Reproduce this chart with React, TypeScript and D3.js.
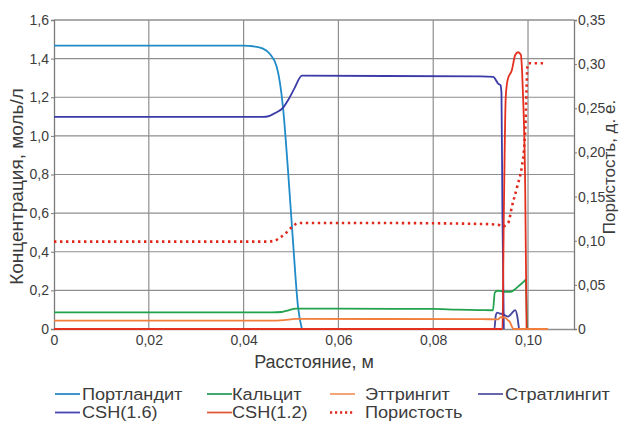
import { useEffect, useRef } from 'react';
import * as d3 from 'd3';

type Pt = [number, number];

// axis ticks
const xTicks = [0, 0.02, 0.04, 0.06, 0.08, 0.1];
const concTicks = [0, 0.2, 0.4, 0.6, 0.8, 1.0, 1.2, 1.4, 1.6];
const poreTicks = [0, 0.05, 0.1, 0.15, 0.2, 0.25, 0.3, 0.35];

// [distance m, concentration mol/l]
const portlandite: Pt[] = [
  [0, 1.467], [0.04, 1.467], [0.042, 1.464], [0.0441, 1.452], [0.0455, 1.425], [0.047, 1.357],
  [0.0483, 1.15], [0.0494, 0.81], [0.0504, 0.46], [0.0515, 0.11], [0.0523, 0],
];
const calcite: Pt[] = [
  [0, 0.086], [0.046, 0.086], [0.048, 0.088], [0.0495, 0.097], [0.051, 0.105], [0.06, 0.105],
  [0.08, 0.104], [0.085, 0.1], [0.09, 0.098], [0.0926, 0.097], [0.093, 0.19], [0.0937, 0.198],
  [0.095, 0.193], [0.0964, 0.193], [0.0972, 0.205], [0.0983, 0.228], [0.0993, 0.25],
  [0.0995, 0.255], [0.0998, 0],
];
const ettringite: Pt[] = [
  [0, 0.043], [0.046, 0.043], [0.0485, 0.046], [0.051, 0.052], [0.09, 0.051], [0.0937, 0.05],
  [0.0942, 0.062], [0.095, 0.06], [0.0958, 0.045], [0.0962, 0.035], [0.0966, 0.012],
  [0.0969, 0], [0.1042, 0],
];
const stratlingite: Pt[] = [
  [0, 0], [0.0929, 0], [0.0932, 0.07], [0.0935, 0.085], [0.094, 0.08], [0.0947, 0.078],
  [0.0952, 0.07], [0.0958, 0.064], [0.0965, 0.08], [0.0973, 0.098], [0.0977, 0.07], [0.0981, 0],
];
const csh16: Pt[] = [
  [0, 1.098], [0.044, 1.098], [0.0455, 1.104], [0.0468, 1.12], [0.0483, 1.145], [0.0495, 1.19],
  [0.0508, 1.25], [0.0523, 1.312], [0.07, 1.31], [0.09, 1.308], [0.0927, 1.306], [0.0932, 1.29],
  [0.0937, 1.27], [0.0942, 1.262], [0.0944, 1.22], [0.0946, 0.6], [0.0949, 0],
];
const csh12: Pt[] = [
  [0, 0], [0.0946, 0], [0.0949, 0.6], [0.0953, 1.2], [0.0957, 1.29], [0.0966, 1.341],
  [0.0973, 1.419], [0.0979, 1.433], [0.0985, 1.419], [0.0987, 1.358], [0.0989, 1.24],
  [0.0994, 0.74], [0.0997, 0],
];
// [distance m, porosity fraction] (right axis)
const porosity: Pt[] = [
  [0, 0.099], [0.045, 0.099], [0.0465, 0.1], [0.0478, 0.104], [0.049, 0.109], [0.0503, 0.116],
  [0.0515, 0.12], [0.07, 0.12], [0.09, 0.119], [0.0937, 0.118], [0.0945, 0.116], [0.0958, 0.12],
  [0.0966, 0.1385], [0.0977, 0.161], [0.0987, 0.184], [0.0992, 0.206], [0.0995, 0.237],
  [0.0997, 0.274], [0.0999, 0.299], [0.1001, 0.301], [0.1036, 0.301],
];

const series = [
  { name: 'Портландит', data: portlandite, color: '#1f8bc8', right: false },
  { name: 'Кальцит', data: calcite, color: '#22a24c', right: false },
  { name: 'Стратлингит', data: stratlingite, color: '#45459e', right: false },
  { name: 'CSH(1.6)', data: csh16, color: '#3b3ba8', right: false },
  { name: 'CSH(1.2)', data: csh12, color: '#e3301f', right: false },
  { name: 'Эттрингит', data: ettringite, color: '#f17e3c', right: false },
  { name: 'Пористость', data: porosity, color: '#e0291b', right: true, dotted: true },
];

const legendItems = [
  { name: 'Портландит', color: '#2a8bc8', col: 0, row: 0 },
  { name: 'Кальцит', color: '#2aa05e', col: 1, row: 0 },
  { name: 'Эттрингит', color: '#f39a68', col: 2, row: 0 },
  { name: 'Стратлингит', color: '#5656a2', col: 3, row: 0 },
  { name: 'CSH(1.6)', color: '#4646b0', col: 0, row: 1 },
  { name: 'CSH(1.2)', color: '#e2583c', col: 1, row: 1 },
  { name: 'Пористость', color: '#e0291b', col: 2, row: 1, dotted: true },
];

export default function App() {
  const ref = useRef<SVGSVGElement>(null);

  useEffect(() => {
    const svg = d3.select(ref.current);
    svg.selectAll('*').remove();
    const font = 'Liberation Sans, Arial, sans-serif';
    const textCol = '#3c3c3c';

    const left = 54, right = 574, top = 20, bottom = 329;
    const x = d3.scaleLinear().domain([0, 0.1097]).range([left, right]);
    const yL = d3.scaleLinear().domain([0, 1.6]).range([bottom, top]);
    const yR = d3.scaleLinear().domain([0, 0.35]).range([bottom, top]);

    // grid
    const grid = svg.append('g').attr('stroke', '#8e8e8e').attr('stroke-width', 1.2);
    concTicks.filter(t => t > 0).forEach(t => {
      grid.append('line').attr('x1', left).attr('x2', right).attr('y1', yL(t)).attr('y2', yL(t));
    });
    xTicks.filter(t => t > 0).forEach(t => {
      grid.append('line').attr('x1', x(t)).attr('x2', x(t)).attr('y1', top).attr('y2', bottom);
    });

    // axes
    const fmtX = (d: any) => (d === 0 ? '0' : d.toFixed(2).replace('.', ','));
    const gx = svg.append('g').attr('transform', `translate(0,${bottom})`)
      .call(d3.axisBottom(x).tickValues(xTicks).tickFormat(fmtX).tickSize(0).tickPadding(6));
    const gl = svg.append('g').attr('transform', `translate(${left},0)`)
      .call(d3.axisLeft(yL).tickValues(concTicks).tickFormat((d: any) => (d === 0 ? '0' : d.toFixed(1).replace('.', ','))).tickSize(3).tickPadding(2));
    const gr = svg.append('g').attr('transform', `translate(${right},0)`)
      .call(d3.axisRight(yR).tickValues(poreTicks).tickFormat((d: any) => (d === 0 ? '0' : d.toFixed(2).replace('.', ','))).tickSize(3).tickPadding(1));
    [gx, gl, gr].forEach(g => {
      g.select('.domain').attr('stroke', '#7a7a7a').attr('stroke-width', 1.3);
      g.selectAll('.tick line').attr('stroke', '#7a7a7a');
      g.selectAll('.tick text').attr('font-family', font).attr('font-size', 14).attr('fill', textCol);
    });
    gx.select('.domain').attr('stroke', '#8e8e8e');
    svg.append('line').attr('x1', left).attr('x2', right).attr('y1', top).attr('y2', top)
      .attr('stroke', '#8e8e8e').attr('stroke-width', 1.2);

    // curves
    const lines = svg.append('g').attr('fill', 'none');
    series.forEach(s => {
      const ys = s.right ? yR : yL;
      const line = d3.line<Pt>().x(d => x(d[0])).y(d => ys(d[1])).curve(d3.curveMonotoneX);
      lines.append('path').attr('d', line(s.data))
        .attr('stroke', s.color)
        .attr('stroke-width', s.dotted ? 2.6 : 1.8)
        .attr('stroke-dasharray', s.dotted ? '2.4 3.6' : null);
    });

    // axis titles
    svg.append('text').attr('x', (left + right) / 2).attr('y', 368).attr('text-anchor', 'middle')
      .attr('font-family', font).attr('font-size', 18).attr('fill', textCol).text('Расстояние, м');
    svg.append('text').attr('transform', `translate(23,${(top + bottom) / 2 + 12}) rotate(-90)`)
      .attr('text-anchor', 'middle').attr('font-family', font).attr('font-size', 19).attr('fill', textCol)
      .text('Концентрация, моль/л');
    svg.append('text').attr('transform', `translate(615,167) rotate(-90)`)
      .attr('text-anchor', 'middle').attr('font-family', font).attr('font-size', 17).attr('fill', textCol)
      .text('Пористость, д. е.');

    // legend
    const colLine = [55, 207, 330, 478];
    const colText = [82, 232, 365, 505];
    const rowY = [394, 412.5];
    legendItems.forEach(it => {
      const lx = colLine[it.col], ly = rowY[it.row];
      svg.append('line').attr('x1', lx).attr('x2', lx + 25).attr('y1', ly).attr('y2', ly)
        .attr('stroke', it.color).attr('stroke-width', it.dotted ? 2.4 : 1.8)
        .attr('stroke-dasharray', it.dotted ? '2.2 2.8' : null);
      svg.append('text').attr('transform', `translate(${colText[it.col]},${ly}) scale(1.1,1)`)
        .attr('dy', '0.35em')
        .attr('font-family', font).attr('font-size', 16.5).attr('fill', textCol).text(it.name);
    });
  }, []);

  return (
    <svg ref={ref} width={630} height={423}
      style={{ position: 'absolute', left: 0, top: 0, background: '#fff' }} />
  );
}
